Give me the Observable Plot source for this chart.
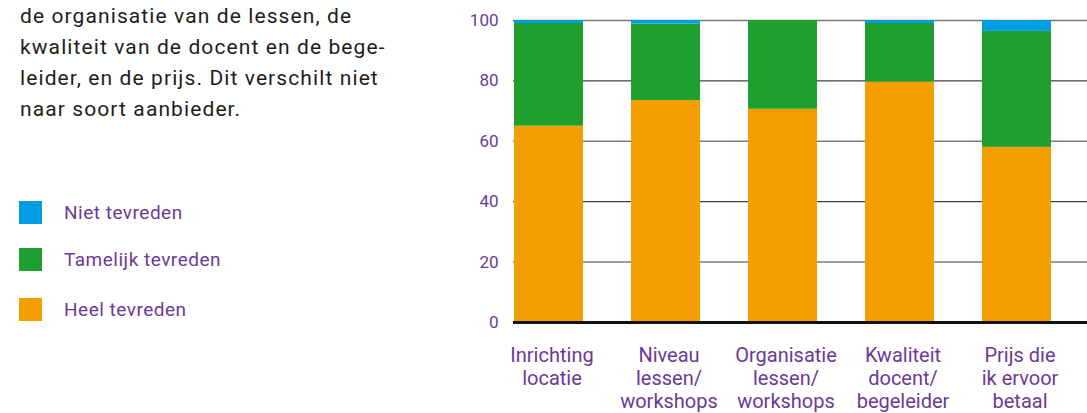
<!DOCTYPE html>
<html>
<head>
<meta charset="utf-8">
<script src="https://cdn.jsdelivr.net/npm/d3@7"></script>
<script src="https://cdn.jsdelivr.net/npm/@observablehq/plot@0.6"></script>
<style>
  html, body { margin: 0; padding: 0; background: #fff; }
  body { width: 1087px; height: 413px; position: relative; overflow: hidden; font-family: Roboto, "Noto Sans", sans-serif; }
  #intro { position: absolute; left: 20px; top: 1px; width: 430px; font-size: 21px; letter-spacing: 1.1px; line-height: 31px; color: #1d1d1b; white-space: nowrap; }
  #legend { position: absolute; left: 19px; top: 201px; }
  .item { position: absolute; left: 0; height: 23px; display: flex; align-items: center; white-space: nowrap; }
  .sw { width: 23px; height: 23px; margin-right: 22px; flex: none; }
  .lab { font-size: 19px; letter-spacing: 0.5px; color: #6b3a96; }
  #chart { position: absolute; left: 450px; top: 0; }
</style>
</head>
<body>
<div id="intro">de organisatie van de lessen, de<br>kwaliteit van de docent en de bege-<br>leider, en de prijs. Dit verschilt niet<br>naar soort aanbieder.</div>
<div id="legend"></div>
<div id="chart"></div>
<script>
const categories = ["Inrichting\nlocatie", "Niveau\nlessen/\nworkshops", "Organisatie\nlessen/\nworkshops", "Kwaliteit\ndocent/\nbegeleider", "Prijs die\nik ervoor\nbetaal"];
const seriesNames = ["Heel tevreden", "Tamelijk tevreden", "Niet tevreden"];
const seriesColors = ["#f39f00", "#1f9f2f", "#009ee0"];
const heel = [65, 73.5, 70.6, 79.6, 58];
const tamelijk = [34, 25.3, 29.4, 19.4, 38.4];
const niet = [1, 1.2, 0, 1, 3.6];
const yTicks = [0, 20, 40, 60, 80, 100];
const gridGray = [20, 60, 100];
const gridBlack = [40, 80];

const seriesValues = [heel, tamelijk, niet];
const rows = [];
categories.forEach((c, i) => {
  seriesNames.forEach((s, j) => rows.push({category: c, series: s, value: seriesValues[j][i]}));
});

// legend (top to bottom: Niet, Tamelijk, Heel)
const legend = document.getElementById("legend");
const legendOrder = [2, 1, 0];
const legendTops = [0, 47, 97];
legendOrder.forEach((j, k) => {
  const it = document.createElement("div");
  it.className = "item";
  it.style.top = legendTops[k] + "px";
  it.innerHTML = `<span class="sw" style="background:${seriesColors[j]}"></span><span class="lab">${seriesNames[j]}</span>`;
  legend.appendChild(it);
});

const chart = Plot.plot({
  width: 637,
  height: 413,
  marginLeft: 63,
  marginRight: 0,
  marginTop: 20,
  marginBottom: 91,
  style: {fontFamily: "Roboto, 'Noto Sans', sans-serif", background: "#fff", overflow: "visible"},
  x: {domain: categories, range: [63, 601.5], paddingInner: 0.41, paddingOuter: 0, label: null},
  y: {domain: [0, 100], label: null},
  color: {domain: seriesNames, range: seriesColors},
  marks: [
    Plot.ruleY(gridGray, {stroke: "#7a7a7a", strokeWidth: 1.5}),
    Plot.ruleY(gridBlack, {stroke: "#111", strokeWidth: 1}),
    Plot.barY(rows, {x: "category", y: "value", fill: "series", order: seriesNames, insetLeft: 0, insetRight: 0}),
    Plot.ruleY([0], {stroke: "#111", strokeWidth: 3}),
    Plot.axisY({ticks: yTicks, tickSize: 0, tickPadding: 15, fontSize: 17, fill: "#6b3a96", label: null}),
    Plot.axisX({tickSize: 0, tickPadding: 23, fontSize: 20, lineHeight: 1.15, fill: "#6b3a96", dx: 3, label: null})
  ]
});
document.getElementById("chart").appendChild(chart);
</script>
</body>
</html>
